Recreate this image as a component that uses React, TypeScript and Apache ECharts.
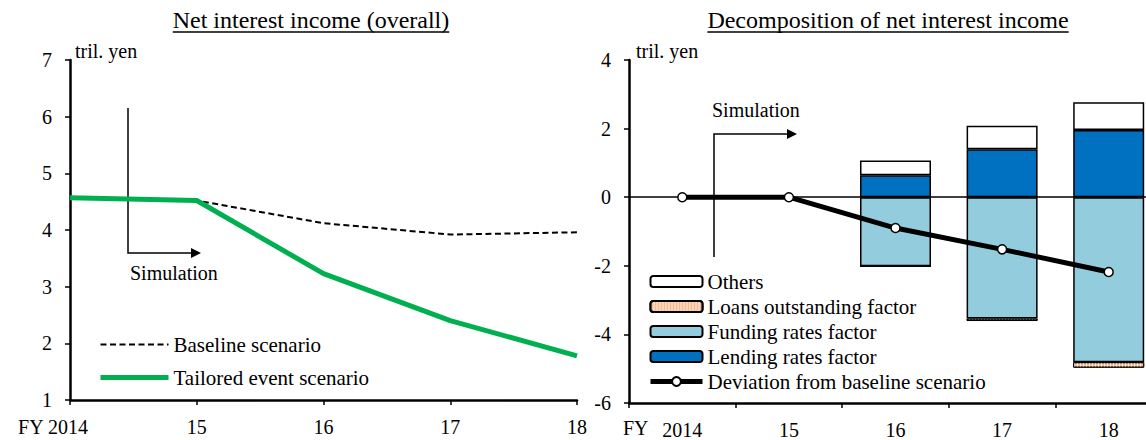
import React, { useEffect, useRef } from "react";
import * as echarts from "echarts";

// ---- data ----
const leftYears = ["FY 2014", "15", "16", "17", "18"];
const rightYears = ["2014", "15", "16", "17", "18"];
const baselineScenario = [4.57, 4.52, 4.12, 3.92, 3.96];
const tailoredScenario = [4.57, 4.52, 3.23, 2.4, 1.78];
const lendingRates = [null, null, 0.64, 1.4, 1.96];
const fundingRates = [null, null, -2.01, -3.54, -4.81];
const loansOutstanding = [null, null, 0, -0.07, -0.16];
const othersFactor = [null, null, 0.43, 0.68, 0.81];
const deviationFromBaseline = [0, 0, -0.9, -1.52, -2.18];
const leftTicks = { min: 1, max: 7, interval: 1 };
const rightTicks = { min: -6, max: 4, interval: 2 };

const FONT = "Liberation Serif";

function measure(text: string, size: number) {
  const c = document.createElement("canvas").getContext("2d");
  if (!c) return text.length * size * 0.45;
  c.font = `${size}px ${FONT}`;
  return c.measureText(text).width;
}

export default function App() {
  const ref = useRef<HTMLDivElement>(null);
  useEffect(() => {
    document.body.style.margin = "0";
    document.body.style.overflow = "hidden";
    if (!ref.current) return;
    const chart = echarts.init(ref.current, undefined, { renderer: "svg" });
    const titleSize = 24;
    const t1 = "Net interest income (overall)";
    const t2 = "Decomposition of net interest income";
    const w1 = measure(t1, titleSize);
    const w2 = measure(t2, titleSize);
    const c1 = 311;
    const c2 = 888;
    const txt = { color: "#000", fontFamily: FONT, fontSize: 20 };
    const axisLine = { show: true, onZero: false, lineStyle: { color: "#000", width: 2.5 } };
    const tick = { show: true, length: 5, lineStyle: { color: "#000", width: 1.5 } };

    chart.setOption({
      animation: false,
      textStyle: { fontFamily: FONT },
      grid: [
        { left: 70, top: 60, width: 507, height: 340, outerBoundsMode: "none" },
        { left: 629, top: 60, width: 533, height: 343, outerBoundsMode: "none" },
      ],
      xAxis: [
        {
          type: "category",
          gridIndex: 0,
          data: leftYears.map((v, i) =>
            i === 0 ? { value: v, textStyle: { padding: [0, 34, 0, 0] } } : v
          ),
          boundaryGap: false,
          axisLine,
          axisTick: tick,
          axisLabel: { ...txt, margin: 17 },
          splitLine: { show: false },
        },
        {
          type: "category",
          gridIndex: 1,
          data: rightYears,
          boundaryGap: true,
          axisLine,
          axisTick: tick,
          axisLabel: { ...txt, margin: 17 },
          splitLine: { show: false },
        },
      ],
      yAxis: [
        {
          type: "value",
          gridIndex: 0,
          ...leftTicks,
          axisLine,
          axisTick: tick,
          axisLabel: { ...txt, margin: 18 },
          splitLine: { show: false },
        },
        {
          type: "value",
          gridIndex: 1,
          ...rightTicks,
          axisLine,
          axisTick: tick,
          axisLabel: { ...txt, margin: 18 },
          splitLine: { show: false },
        },
      ],
      legend: [
        {
          left: 93,
          top: 329,
          orient: "vertical",
          itemWidth: 68,
          itemHeight: 14,
          itemGap: 12,
          textStyle: { ...txt, fontSize: 21, lineHeight: 21 },
          data: [
            { name: "Baseline scenario", lineStyle: { width: 2 }, itemStyle: { opacity: 0 } },
            { name: "Tailored event scenario", lineStyle: { width: 5 }, itemStyle: { opacity: 0 } },
          ],
        },
        {
          left: 643,
          top: 266,
          orient: "vertical",
          itemWidth: 52,
          itemHeight: 11,
          itemGap: 4,
          textStyle: { ...txt, fontSize: 21, lineHeight: 21 },
          data: [
            "Others",
            "Loans outstanding factor",
            "Funding rates factor",
            "Lending rates factor",
            { name: "Deviation from baseline scenario", lineStyle: { width: 5 } },
          ],
        },
      ],
      series: [
        {
          name: "Baseline scenario",
          type: "line",
          xAxisIndex: 0,
          yAxisIndex: 0,
          data: baselineScenario,
          symbol: "circle",
          showSymbol: false,
          lineStyle: { color: "#000", width: 2, type: [6, 3.5] },
          itemStyle: { color: "#000" },
        },
        {
          name: "Tailored event scenario",
          type: "line",
          xAxisIndex: 0,
          yAxisIndex: 0,
          data: tailoredScenario,
          symbol: "circle",
          showSymbol: false,
          lineStyle: { color: "#00B050", width: 5 },
          itemStyle: { color: "#00B050" },
        },
        {
          name: "Lending rates factor",
          type: "bar",
          xAxisIndex: 1,
          yAxisIndex: 1,
          stack: "f",
          barWidth: 71,
          data: lendingRates,
          itemStyle: { color: "#0070C0", borderColor: "#000", borderWidth: 1.5 },
          markLine: {
            silent: true,
            symbol: "none",
            label: { show: false },
            lineStyle: { color: "#000", width: 1.5, type: "solid" },
            data: [{ yAxis: 0 }],
          },
        },
        {
          name: "Funding rates factor",
          type: "bar",
          xAxisIndex: 1,
          yAxisIndex: 1,
          stack: "f",
          barWidth: 71,
          data: fundingRates,
          itemStyle: { color: "#93CDDD", borderColor: "#000", borderWidth: 1.5 },
        },
        {
          name: "Loans outstanding factor",
          type: "bar",
          xAxisIndex: 1,
          yAxisIndex: 1,
          stack: "f",
          barWidth: 71,
          data: loansOutstanding,
          itemStyle: {
            color: "#F9B98A",
            borderColor: "#000",
            borderWidth: 1,
            decal: {
              symbol: "rect",
              symbolSize: 1,
              dashArrayX: [1, 2],
              dashArrayY: [4, 0],
              rotation: 0,
              color: "rgba(255,255,255,0.8)",
            },
          },
        },
        {
          name: "Others",
          type: "bar",
          xAxisIndex: 1,
          yAxisIndex: 1,
          stack: "f",
          barWidth: 71,
          data: othersFactor,
          itemStyle: { color: "#fff", borderColor: "#000", borderWidth: 1.5 },
        },
        {
          name: "Deviation from baseline scenario",
          type: "line",
          xAxisIndex: 1,
          yAxisIndex: 1,
          data: deviationFromBaseline,
          symbol: "circle",
          symbolSize: 9,
          showAllSymbol: true,
          z: 5,
          lineStyle: { color: "#000", width: 5 },
          itemStyle: { color: "#fff", borderColor: "#000", borderWidth: 1.5 },
        },
      ],
      graphic: [
        {
          type: "text",
          x: c1,
          y: 20,
          style: { text: t1, font: `${titleSize}px ${FONT}`, fill: "#000", align: "center", verticalAlign: "middle" },
        },
        { type: "line", shape: { x1: c1 - w1 / 2, y1: 32, x2: c1 + w1 / 2, y2: 32 }, style: { stroke: "#000", lineWidth: 1.5 } },
        {
          type: "text",
          x: c2,
          y: 20,
          style: { text: t2, font: `${titleSize}px ${FONT}`, fill: "#000", align: "center", verticalAlign: "middle" },
        },
        { type: "line", shape: { x1: c2 - w2 / 2, y1: 32, x2: c2 + w2 / 2, y2: 32 }, style: { stroke: "#000", lineWidth: 1.5 } },
        { type: "text", x: 75, y: 51, style: { text: "tril. yen", font: `20px ${FONT}`, fill: "#000", verticalAlign: "middle" } },
        { type: "text", x: 636, y: 51, style: { text: "tril. yen", font: `20px ${FONT}`, fill: "#000", verticalAlign: "middle" } },
        { type: "text", x: 623, y: 428, style: { text: "FY", font: `20px ${FONT}`, fill: "#000", verticalAlign: "middle" } },
        // Simulation arrows
        {
          type: "polyline",
          shape: { points: [[128, 108], [128, 253], [193, 253]] },
          style: { stroke: "#000", lineWidth: 1.5, fill: "none" },
        },
        { type: "polygon", shape: { points: [[191, 248], [201, 253], [191, 258]] }, style: { fill: "#000" } },
        { type: "text", x: 130, y: 273, style: { text: "Simulation", font: `20px ${FONT}`, fill: "#000", verticalAlign: "middle" } },
        {
          type: "polyline",
          shape: { points: [[714, 257], [714, 134], [789, 134]] },
          style: { stroke: "#000", lineWidth: 1.5, fill: "none" },
        },
        { type: "polygon", shape: { points: [[787, 129], [797, 134], [787, 139]] }, style: { fill: "#000" } },
        { type: "text", x: 712, y: 110, style: { text: "Simulation", font: `20px ${FONT}`, fill: "#000", verticalAlign: "middle" } },
      ],
    });
    return () => chart.dispose();
  }, []);
  return <div ref={ref} style={{ width: 1170, height: 440 }} />;
}
